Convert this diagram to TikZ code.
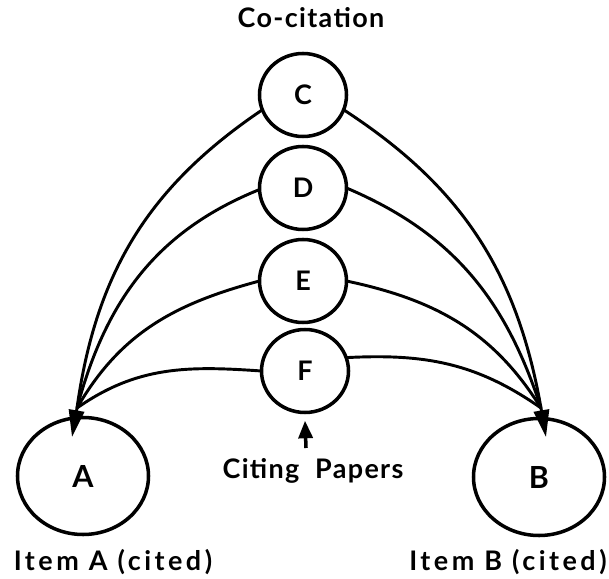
\documentclass[tikz,border=0pt]{standalone}
\usepackage{fontspec}
\setmainfont{Lato}[LetterSpace=5]
\usetikzlibrary{shapes.geometric,arrows.meta}
\begin{document}
\begin{tikzpicture}[x=0.03cm,y=0.03cm,
  small/.style={ellipse,draw,line width=3pt,minimum width=2.61cm,minimum height=2.49cm,inner sep=0pt,outer sep=0pt,font=\fontsize{23}{26}\selectfont\bfseries},
  big/.style={ellipse,draw,line width=3pt,minimum width=3.93cm,minimum height=3.51cm,inner sep=0pt,outer sep=0pt,font=\fontsize{26}{30}\selectfont\bfseries},
  link/.style={line width=2.5pt},
  lbl/.style={font=\fontsize{23}{27}\selectfont\bfseries,anchor=base,inner sep=0pt},
  wide/.style={font=\fontsize{23}{27}\selectfont\bfseries\addfontfeature{LetterSpace=13}},
  tipArrow/.style={-{Triangle[length=23pt,width=13pt]},line width=2.5pt}]
\useasboundingbox (0,0) rectangle (609,578);
\node[small] (C) at (303,483) {C};
\node[small] (D) at (303,390) {D};
\node[small] (E) at (303,297) {E};
\node[small] (F) at (305,207) {F};
\node[big] (A) at (83,102) {A};
\node[big] (B) at (539,101) {B};
\coordinate (jA) at (77,170);
\coordinate (tA) at (72,141);
\coordinate (jB) at (541,170);
\coordinate (tB) at (546,141);
% left curves
\draw[link] (C.200) to[out=214,in=82] (jA);
\draw[link] (D.182) to[out=202,in=75] (jA);
\draw[link] (E.180) to[out=195,in=60] (jA);
\draw[link] (F.180) to[out=176,in=35] (jA);
% right curves
\draw[link] (C.340) to[out=-33,in=100] (jB);
\draw[link] (D.0) to[out=-23,in=108] (jB);
\draw[link] (E.0) to[out=-12,in=122] (jB);
\draw[link] (F.18) to[out=3,in=145] (jB);
\draw[tipArrow] (jA) -- (tA);
\draw[tipArrow] (jB) -- (tB);
% labels
\node[lbl] (title) at (311,550) {Co-citation};
\node[lbl] (cp) at (313,100) {Citing\ \ Papers};
\node[lbl,wide] (ia) at (113,8) {Item A (cited)};
\node[lbl,wide] (ib) at (508,8) {Item B (cited)};
\coordinate (cpa) at (306,130);
\draw[-{Triangle[length=15pt,width=12pt]},line width=3pt] (cpa) -- ([yshift=-7pt]F.south);
\end{tikzpicture}
\end{document}
